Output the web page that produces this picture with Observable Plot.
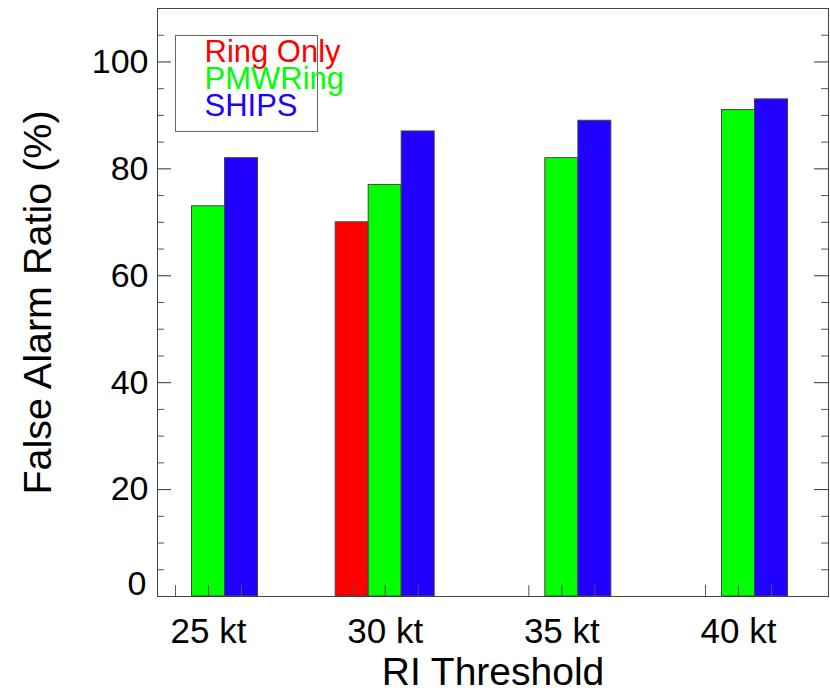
<!DOCTYPE html>
<html>
<head>
<meta charset="utf-8">
<script src="https://cdn.jsdelivr.net/npm/d3@7"></script>
<script src="https://cdn.jsdelivr.net/npm/@observablehq/plot@0.6"></script>
<style>
  html, body { margin: 0; padding: 0; background: white; }
</style>
</head>
<body>
<div id="chart"></div>
<script>
// ---- data ----
const thresholds = [25, 30, 35, 40];
const thresholdLabels = ["25 kt", "30 kt", "35 kt", "40 kt"];
const seriesNames = ["Ring Only", "PMWRing", "SHIPS"];
const ringOnly = [null, 70, null, null];
const pmwRing = [73, 77, 82, 91];
const ships = [82, 87, 89, 93];
const seriesColors = ["#ff0000", "#00ff00", "#2200ff"];
const yMajorTicks = [0, 20, 40, 60, 80, 100];
const yMinorTicks = [5, 10, 15, 25, 30, 35, 45, 50, 55, 65, 70, 75, 85, 90, 95, 105];

// ---- layout ----
const W = 830, H = 697;
const ML = 157, MR = 2, MT = 8, MB = 101;
const innerW = W - ML - MR, innerH = H - MT - MB;
const bw = 0.934; // bar width in kt units

const seriesValues = [ringOnly, pmwRing, ships];
const rows = [];
seriesValues.forEach((vals, j) => {
  vals.forEach((v, i) => {
    if (v != null) rows.push({t: thresholds[i], j, s: seriesNames[j], v});
  });
});
const barTicks = [];
thresholds.forEach(t => seriesNames.forEach((s, j) => barTicks.push(t + (j - 1) * bw)));

const font = "'Liberation Sans', Arial, Helvetica, sans-serif";

const legendMarks = seriesNames.map((name, i) =>
  Plot.text([name], {
    text: d => d,
    frameAnchor: "top-left",
    dx: 47,
    dy: 44 + 27 * i,
    textAnchor: "start",
    lineAnchor: "middle",
    fill: seriesColors[i],
    fontSize: 31
  })
);

const chart = Plot.plot({
  width: W,
  height: H,
  marginLeft: ML,
  marginRight: MR,
  marginTop: MT,
  marginBottom: MB,
  style: {fontFamily: font, fontSize: "34px", color: "black", background: "white"},
  x: {domain: [23.556, 42.547]},
  y: {domain: [0, 110]},
  color: {domain: seriesNames, range: seriesColors},
  marks: [
    Plot.rect(rows, {
      x1: d => d.t + (d.j - 1.5) * bw,
      x2: d => d.t + (d.j - 0.5) * bw,
      y1: 0,
      y2: "v",
      fill: "s",
      stroke: "#444",
      strokeWidth: 1
    }),
    Plot.tickX(barTicks, {x: d => d, insetTop: innerH - 11, stroke: "#555"}),
    Plot.tickY(yMajorTicks, {y: d => d, insetRight: innerW - 14, stroke: "#333"}),
    Plot.tickY(yMinorTicks, {y: d => d, insetRight: innerW - 7, stroke: "#555"}),
    Plot.tickY(yMajorTicks, {y: d => d, insetLeft: innerW - 14, stroke: "#333"}),
    Plot.tickY(yMinorTicks, {y: d => d, insetLeft: innerW - 7, stroke: "#555"}),
    Plot.axisY(yMajorTicks.filter(d => d > 0), {tickSize: 0, tickPadding: 9, label: null, fontSize: 34}),
    Plot.axisY([0], {tickSize: 0, tickPadding: 11, dy: -12, label: null, fontSize: 34}),
    Plot.axisX(thresholds, {tickSize: 0, tickPadding: 22, label: null, fontSize: 35,
      tickFormat: d => thresholdLabels[thresholds.indexOf(d)]}),
    Plot.text(["False Alarm Ratio (%)"], {
      text: d => d, frameAnchor: "left", dx: -119, rotate: -90,
      textAnchor: "middle", lineAnchor: "middle", fontSize: 39.5
    }),
    Plot.text(["RI Threshold"], {
      text: d => d, frameAnchor: "bottom", dy: 76,
      textAnchor: "middle", lineAnchor: "middle", fontSize: 39
    }),
    Plot.frame({stroke: "#444"}),
    Plot.frame({stroke: "#666", insetLeft: 18, insetTop: 27, insetRight: innerW - 160, insetBottom: innerH - 123}),
    ...legendMarks
  ]
});
document.getElementById("chart").appendChild(chart);
</script>
</body>
</html>
